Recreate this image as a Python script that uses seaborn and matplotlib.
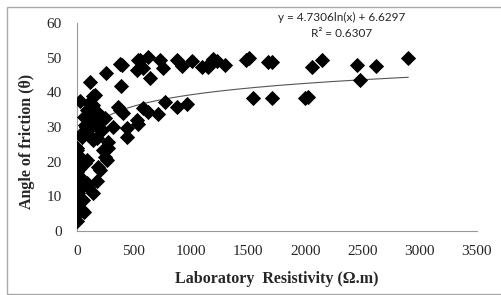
import numpy as np
import pandas as pd
import seaborn as sns
import matplotlib.pyplot as plt
from matplotlib.patches import Rectangle

# data
resistivity = [2, 5, 3, 8, 2, 6, 4, 10, 3, 7, 2, 9, 5, 3, 8, 2, 6, 4, 3, 10, 15, 12, 20, 25, 18,
               44, 52, 60, 96, 87, 140, 175, 184, 201, 87, 70, 228, 245, 262, 271, 0,
               26, 140, 158, 87, 96, 140, 175, 184, 131, 140, 219, 245, 70, 80, 184, 219, 315,
               26, 44, 140, 175, 271, 100, 120, 160, 60, 110,
               114, 254, 376, 394, 390,
               359, 376, 402, 437, 437, 525, 534, 578, 621, 709, 770, 875, 963,
               525, 534, 551, 621, 578, 639, 726, 752, 875, 919, 1006, 1094, 1146, 1160,
               1190, 1230, 1295, 1480, 1510, 1670, 1710, 2056, 2144, 2450, 2476, 2616, 2900,
               1540, 1706, 1995, 2020]
friction = [3, 5, 6, 7, 8, 9, 10, 11, 12, 13, 14, 15, 16, 17, 18, 19, 20, 21, 23.4, 22, 16, 10, 8, 12, 18,
            6, 9, 5.5, 12.7, 13.8, 11, 14.5, 18.5, 17.6, 20.5, 19.6, 23.4, 21.3, 20.5, 23.9, 23.9,
            37.5, 39, 39.2, 34.9, 34.9, 36.3, 34, 34, 32, 32, 33, 32.6, 30.6, 30, 29.7, 29.1, 30,
            27.7, 27.1, 26.2, 26.8, 25.7, 28, 30, 31, 33, 37,
            43, 45.6, 48.2, 47.9, 41.8,
            35.8, 34.9, 34, 29.7, 27.1, 32, 31, 35.5, 34.3, 33.8, 37.2, 35.8, 36.5,
            46.4, 49.3, 49.3, 50.2, 47, 44.2, 49.3, 47, 49.3, 47.5, 48.9, 47.3, 47.3, 48.2,
            49.6, 49, 47.9, 49.3, 49.8, 48.7, 48.7, 47.3, 49.3, 47.9, 43.6, 47.6, 49.8,
            38.4, 38.4, 38.3, 38.7]

# log trendline coefficients
slope = 4.7306
intercept = 6.6297
r2 = 0.6307

df = pd.DataFrame({'res': resistivity, 'phi': friction})

sns.set_style('white')
plt.rcParams['font.family'] = ['Liberation Serif', 'DejaVu Serif']

fig = plt.figure(figsize=(5.02, 2.95), dpi=100)
ax = fig.add_axes([0.153, 0.217, 0.797, 0.705])

sns.scatterplot(data=df, x='res', y='phi', marker='D', color='black', s=60,
                linewidth=0, ax=ax, zorder=3)

xt = np.linspace(max(df.res.min(), 1), df.res.max(), 300)
ax.plot(xt, slope * np.log(xt) + intercept, color='#555555', lw=0.8, zorder=2)

ax.set_xlim(0, 3500)
ax.set_ylim(0, 60)
ax.set_xticks(range(0, 3501, 500))
ax.set_yticks(range(0, 61, 10))
for s in ['top', 'right']:
    ax.spines[s].set_visible(False)
for s in ['left', 'bottom']:
    ax.spines[s].set_color('#999999')
    ax.spines[s].set_linewidth(0.8)
ax.tick_params(direction='out', length=4, width=0.8, color='#999999',
               labelsize=11, pad=6)
ax.tick_params(axis='y', pad=7)

ax.set_xlabel('Laboratory  Resistivity (Ω.m)', fontsize=11.5, fontweight='bold')
ax.set_ylabel('Angle of friction (θ)', fontsize=11.5, fontweight='bold')
ax.xaxis.set_label_coords(0.5, -0.19)
ax.yaxis.set_label_coords(-0.105, 0.43)

fig.text(0.681, 0.942, f'y = {slope}ln(x) + {intercept}', ha='center', va='center',
         fontsize=8.5, family=['Lato', 'DejaVu Sans'])
fig.text(0.681, 0.888, f'R² = {r2}', ha='center', va='center',
         fontsize=8.5, family=['Lato', 'DejaVu Sans'])

fig.patches.append(Rectangle((0.014, 0.003), 1.1, 0.973, transform=fig.transFigure,
                             fill=False, edgecolor='#aaaaaa', lw=1))

fig.savefig('out.png', dpi=100)
